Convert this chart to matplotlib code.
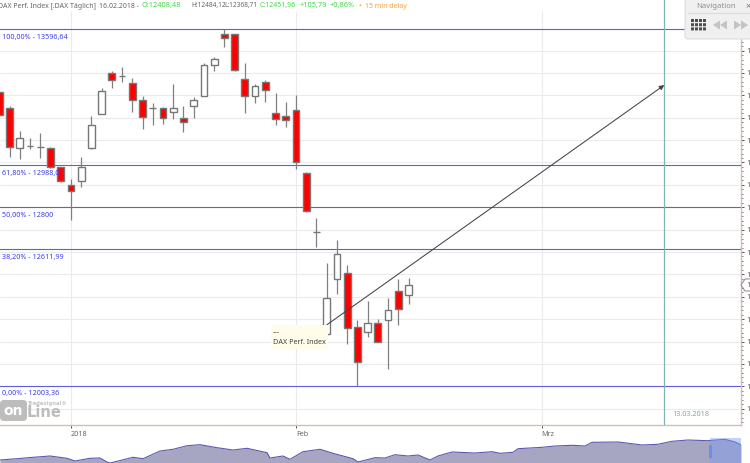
import matplotlib
matplotlib.use("Agg")
import matplotlib.pyplot as plt
from matplotlib.patches import FancyBboxPatch, Rectangle, Polygon

# daily candles, last one is 16.02.2018
opens = [13315, 13244, 13063, 13075, 13071, 13063, 12979, 12899, 12916, 13063, 13217,
         13399, 13385, 13354, 13279, 13242, 13244, 13226, 13200, 13251, 13297, 13434,
         13576, 13573, 13373, 13296, 13360, 13223, 13209, 13236, 12954, 12688, 12234,
         12479, 12506, 12264, 12241, 12281, 12296, 12427, 12408.48]
highs = [13320, 13253, 13141, 13111, 13132, 13071, 12980, 12925, 13026, 13209, 13333,
         13409, 13427, 13378, 13297, 13266, 13249, 13351, 13251, 13293, 13445, 13470,
         13596.64, 13575, 13443, 13349, 13369, 13309, 13269, 13300, 12956, 12751, 12550,
         12652, 12542, 12296, 12381, 12301, 12394, 12479, 12484.12]
lows = [13210, 13026, 13014, 13059, 13019, 12975, 12912, 12743, 12892, 13059, 13217,
        13332, 13358, 13224, 13148, 13168, 13172, 13196, 13138, 13200, 13297, 13409,
        13515, 13410, 13220, 13267, 13272, 13169, 13157, 12972, 12781, 12621, 12234,
        12414, 12188, 12003.36, 12222, 12196, 12076, 12274, 12368.71]
closes = [13214, 13071, 13108, 13075, 13071, 12981, 12916, 12873, 12979, 13168, 13318,
          13369, 13385, 13279, 13202, 13242, 13200, 13245, 13181, 13279, 13434, 13463,
          13556, 13412, 13297, 13340, 13324, 13196, 13189, 13002, 12783, 12688, 12393,
          12592, 12262, 12107, 12281, 12196, 12339, 12347, 12451.96]

fib_levels = [13596.64, 12988.01, 12800, 12611.99, 12003.36]
fib_labels = ["100,00% - 13596,64", "61,80% - 12988,01", "50,00% - 12800",
              "38,20% - 12611,99", "0,00% - 12003,36"]

month_pos = [7, 29, 53]
month_labels = ["2018", "Feb", "Mrz"]
price_ticks = [11900, 12000, 12100, 12200, 12300, 12400, 12500, 12600, 12700, 12800,
               12900, 13000, 13100, 13200, 13300, 13400, 13500]

# overview strip along the bottom
overview_x = [0, 17, 33, 50, 67, 75, 90, 100, 107, 110, 117, 133, 143, 160, 173, 187, 200,
              217, 233, 247, 267, 270, 283, 290, 303, 320, 333, 353, 358, 375, 385, 395,
              408, 418, 430, 438, 452, 475, 492, 500, 513, 518, 542, 555, 572, 585, 592,
              618, 642, 658, 672, 688, 708, 725, 735, 741]
overview_y = [3, 4.3, 5.7, 7, 4.7, 2, 4.7, 5, 1, 0, 1.7, 5.7, 4.3, 12, 13.7, 17.3, 18.3,
              15.3, 13, 14.7, 10.3, 5, 7, 3.7, 11.3, 13.7, 9.7, 4.3, 1, 5.3, 5, 8.3,
              7, 8, 3, 7, 11, 10, 11.3, 9.7, 10.7, 14.3, 15.7, 17, 17.7, 17, 20.7,
              21, 18, 18.7, 21.7, 23, 22.3, 23.7, 21, 18.3]

W, H = 750, 463
plt.rcParams["font.family"] = "Noto Sans"
FS = 5.2

fig = plt.figure(figsize=(W / 100, H / 100), dpi=100)

# main chart, pixel box 0..741 x 0..425
ax = fig.add_axes([0, (H - 425) / H, 741 / W, 425 / H])
ax.set_xlim(0.068, 72.5)
ax.set_ylim(13726.2 - 4.469 * 425, 13726.2)
for s in ["top", "left"]:
    ax.spines[s].set_visible(False)
for s in ["right", "bottom"]:
    ax.spines[s].set_color("#d8bcb4")
    ax.spines[s].set_linewidth(1.0)

# grid
ax.hlines(price_ticks, 0.068, 72.5, color="#ebebeb", lw=0.8, zorder=1)
ax.vlines(month_pos, ax.get_ylim()[0], 13726.2 - 4.469 * 11, color="#ebebeb", lw=0.8, zorder=1)

# fibonacci lines
for lev, lab in zip(fib_levels, fib_labels):
    ax.axhline(lev, color="#5f5fdc", lw=0.8, zorder=2)
    ax.annotate(lab, (0, lev), xycoords=("axes fraction", "data"), xytext=(1.5, -5.8),
                textcoords="offset points", color="#3c3cf0", fontsize=FS, va="center", zorder=6)

# candles
for i in range(len(opens)):
    ax.vlines(i, lows[i], highs[i], color="#808080", lw=0.9, zorder=3)
    up = closes[i] >= opens[i]
    ax.bar(i, closes[i] - opens[i], bottom=opens[i], width=0.66,
           color="white" if up else "#ff0000", edgecolor="#777777", lw=1.0, zorder=4)

# target date line
ax.axvline(65, color="#7fb4b4", lw=0.9, zorder=3)
ax.text(65.8, 11873, "13.03.2018", color="#7fa8ae", fontsize=FS, va="center", zorder=6)

# arrow
ax.annotate("", xy=(65, 13346), xytext=(32, 12274),
            arrowprops=dict(arrowstyle="-|>", color="#444444", lw=0.75, shrinkA=0, shrinkB=0,
                            mutation_scale=7), zorder=5)

# axes ticks
ax.yaxis.tick_right()
ax.set_yticks(price_ticks)
ax.set_yticklabels([str(p) for p in price_ticks], fontsize=FS, color="#555555")
ax.set_yticks(range(11840, 13720, 20), minor=True)
ax.tick_params(axis="y", which="major", length=2.5, width=0.7, color="#555555", pad=1.5)
ax.tick_params(axis="y", which="minor", length=1.5, width=0.6, color="#666666")
ax.set_xticks(month_pos)
ax.set_xticklabels(month_labels, fontsize=FS, color="#666666", ha="left")
ax.tick_params(axis="x", length=2.5, width=0.7, color="#555555", pad=2)

# overview strip
ov = fig.add_axes([0, 0, 741 / W, 27 / H])
ov.set_xlim(0, 741)
ov.set_ylim(0, 27)
ov.axis("off")
ov.fill_between(overview_x, overview_y, 0, color="#a6a6c2", lw=0, zorder=1)
ov.plot(overview_x, overview_y, color="#5a5ab0", lw=0.8, zorder=2)
ov.add_patch(Rectangle((710, 0), 31, 25, color="#7f9cf0", alpha=0.45, lw=0, zorder=3))
ov.add_patch(Rectangle((709, 5), 3, 13, color="#6f8fe0", lw=0, zorder=4))

# everything below is placed in picture pixels
px = fig.add_axes([0, 0, 1, 1], zorder=10)
px.set_xlim(0, W)
px.set_ylim(H, 0)
px.axis("off")
px.patch.set_alpha(0)

# header
hdr = [(-2, "DAX Perf. Index [.DAX Täglich]", "#666666", 5.0),
       (99, "16.02.2018 -", "#666666", 5.0),
       (142, "O:12408,48", "#3fdc3f", 5.3),
       (191, "H:12484,12", "#666666", 4.7),
       (224, "L:12368,71", "#666666", 4.7),
       (260, "C:12451,96", "#3fdc3f", 5.0),
       (300, "+105,79", "#3fdc3f", 5.3),
       (330, "+0,86%", "#3fdc3f", 5.3),
       (358, "•", "#ffa030", 5.3),
       (365, "15 min delay", "#ffa030", 5.0)]
for x, t, c, fs in hdr:
    px.text(x, 6, t, color=c, fontsize=fs, va="center")

# tooltip label at the arrow start
px.add_patch(Rectangle((271, 325), 57, 24, color="#fffdea", lw=0, zorder=5))
px.text(273, 333, "---", fontsize=FS, color="#444444", va="center", zorder=6)
px.text(273, 343, "DAX Perf. Index", fontsize=FS, color="#444444", va="center", zorder=6)

# current price tag on the axis
px.add_patch(Polygon([[741, 285], [745, 279], [752, 279], [752, 291], [745, 291]],
                     facecolor="white", edgecolor="#888888", lw=0.7, zorder=7))
px.text(746, 285, "12451,96", fontsize=FS, color="#555555", va="center", zorder=8, clip_on=True)

# logo
px.add_patch(FancyBboxPatch((2, 402), 23, 17, boxstyle="round,pad=2,rounding_size=4",
                            color="#bdbdbd", lw=0))
px.text(13, 411, "on", fontsize=10, family="DejaVu Sans", fontweight="bold", color="white",
        ha="center", va="center")
px.text(27, 412.5, "Line", fontsize=10.5, family="DejaVu Sans", fontweight="bold", color="#bdbdbd",
        va="center")
px.text(27, 403.5, "Tradesignal®", fontsize=3.8, family="DejaVu Sans", fontweight="bold",
        color="#c4c4c4", va="center")

# navigation panel
px.add_patch(FancyBboxPatch((685, -4), 71, 43, boxstyle="round,pad=0,rounding_size=3",
                            facecolor="#f0f0f0", edgecolor="#dddddd", lw=0.8, zorder=7))
px.plot([688, 750], [12.5, 12.5], color="#dcdcdc", lw=0.8, zorder=8)
px.text(696, 6.5, "Navigation", fontsize=5.6, color="#8a9098", va="center", zorder=8)
px.text(745, 6.5, "×", fontsize=6.5, color="#777777", va="center", zorder=8)
for r in range(3):
    for c in range(4):
        px.add_patch(Rectangle((691 + c * 4, 19 + r * 4.2), 3, 3, color="#4d4d4d", lw=0, zorder=8,
                               snap=False))
for x0 in [713, 720]:
    px.add_patch(Polygon([[x0, 25], [x0 + 7, 20.5], [x0 + 7, 29.5]], color="#c4c4c4", lw=0, zorder=8))
for x0 in [734, 741]:
    px.add_patch(Polygon([[x0 + 7, 25], [x0, 20.5], [x0, 29.5]], color="#c4c4c4", lw=0, zorder=8))

fig.savefig("out.png", dpi=100, facecolor="white")
